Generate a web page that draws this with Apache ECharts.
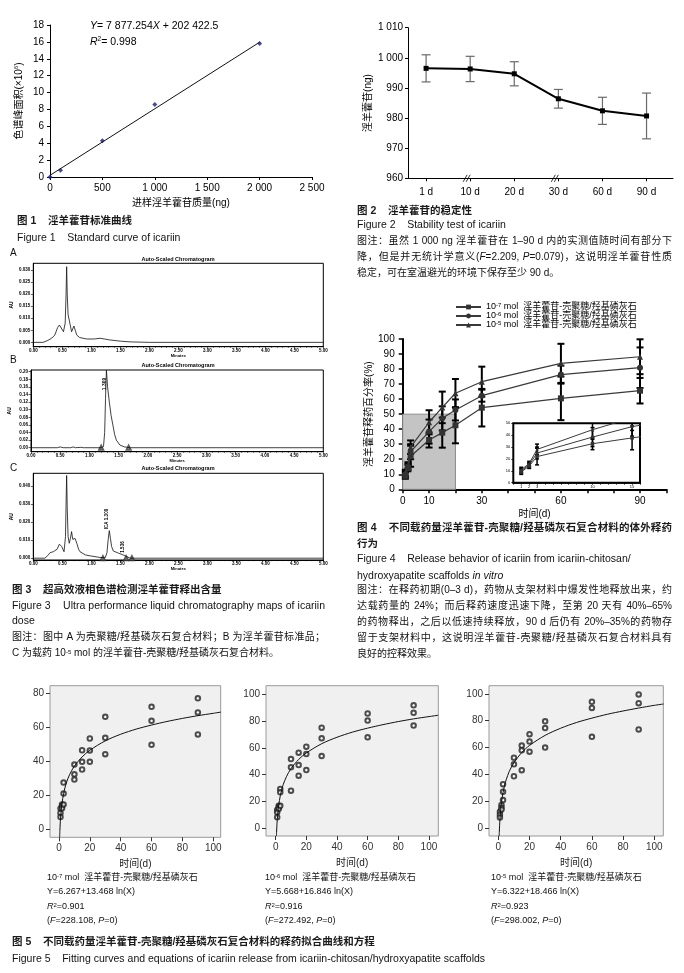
<!DOCTYPE html>
<html><head><meta charset="utf-8">
<script src="https://cdn.jsdelivr.net/npm/echarts@6/dist/echarts.min.js"></script>
<style>
html,body{margin:0;padding:0;background:#fff;}
#wrap{position:relative;width:684px;height:973px;overflow:hidden;}
#chart{position:absolute;left:0;top:0;width:684px;height:973px;}
.t{position:absolute;white-space:nowrap;font-family:"Liberation Sans","Noto Sans CJK SC",sans-serif;font-size:10px;line-height:12px;color:#111;}
.h{font-weight:bold;color:#1a1a1a;}
.j{white-space:normal;text-align:justify;text-align-last:justify;}
.s{font-size:9px;}
sup{font-size:6px;vertical-align:top;position:relative;top:-1px;}
</style></head>
<body><div id="wrap"><div id="chart"></div>
<div class="t h" style="left:17px;top:214px;font-size:10.5px">图 1&nbsp;&nbsp;&nbsp; 淫羊藿苷标准曲线</div>
<div class="t" style="left:17px;top:231px;font-size:10.5px">Figure 1&nbsp;&nbsp;&nbsp; Standard curve of icariin</div>

<div class="t h" style="left:357px;top:204px;font-size:10.5px">图 2&nbsp;&nbsp;&nbsp; 淫羊藿苷的稳定性</div>
<div class="t" style="left:357px;top:218px;font-size:10.5px">Figure 2&nbsp;&nbsp;&nbsp; Stability test of icariin</div>
<div class="t j" style="left:357px;top:235px;width:315px">图注：虽然 1 000 ng 淫羊藿苷在 1–90 d 内的实测值随时间有部分下</div>
<div class="t j" style="left:357px;top:251px;width:315px">降，但是并无统计学意义(<i>F</i>=2.209, <i>P</i>=0.079)，这说明淫羊藿苷性质</div>
<div class="t" style="left:357px;top:267px">稳定，可在室温避光的环境下保存至少 90 d。</div>

<div class="t" style="left:10px;top:247px">A</div>
<div class="t" style="left:10px;top:354px">B</div>
<div class="t" style="left:10px;top:462px">C</div>
<div class="t h" style="left:12px;top:583px;font-size:10.5px">图 3&nbsp;&nbsp;&nbsp; 超高效液相色谱检测淫羊藿苷释出含量</div>
<div class="t j" style="left:12px;top:599px;width:313px;font-size:10.5px">Figure 3&nbsp;&nbsp;&nbsp; Ultra performance liquid chromatography maps of icariin</div>
<div class="t" style="left:12px;top:614px;font-size:10.5px">dose</div>
<div class="t j" style="left:12px;top:631px;width:313px">图注：图中 A 为壳聚糖/羟基磷灰石复合材料；B 为淫羊藿苷标准品；</div>
<div class="t" style="left:12px;top:647px">C 为载药 10<sup>-5</sup> mol 的淫羊藿苷-壳聚糖/羟基磷灰石复合材料。</div>

<div class="t h j" style="left:357px;top:521px;width:315px;font-size:10.5px">图 4&nbsp;&nbsp;&nbsp; 不同载药量淫羊藿苷-壳聚糖/羟基磷灰石复合材料的体外释药</div>
<div class="t h" style="left:357px;top:537px;font-size:10.5px">行为</div>
<div class="t" style="left:357px;top:552px;font-size:10.5px">Figure 4&nbsp;&nbsp;&nbsp; Release behavior of icariin from icariin-chitosan/</div>
<div class="t" style="left:357px;top:569px;font-size:10.5px">hydroxyapatite scaffolds <i>in vitro</i></div>
<div class="t j" style="left:357px;top:584px;width:315px">图注：在释药初期(0–3 d)，药物从支架材料中爆发性地释放出来，约</div>
<div class="t j" style="left:357px;top:600px;width:315px">达载药量的 24%；而后释药速度迅速下降，至第 20 天有 40%–65%</div>
<div class="t j" style="left:357px;top:616px;width:315px">的药物释出，之后以低速持续释放，90 d 后仍有 20%–35%的药物存</div>
<div class="t j" style="left:357px;top:632px;width:315px">留于支架材料中，这说明淫羊藿苷-壳聚糖/羟基磷灰石复合材料具有</div>
<div class="t" style="left:357px;top:648px">良好的控释效果。</div>

<div class="t s" style="left:47px;top:871px">10<sup>-7</sup> mol&nbsp; 淫羊藿苷-壳聚糖/羟基磷灰石</div>
<div class="t s" style="left:47px;top:885px">Y=6.267+13.468 ln(X)</div>
<div class="t s" style="left:47px;top:900px"><i>R</i><sup>2</sup>=0.901</div>
<div class="t s" style="left:47px;top:914px">(<i>F</i>=228.108, <i>P</i>=0)</div>
<div class="t s" style="left:265px;top:871px">10<sup>-6</sup> mol&nbsp; 淫羊藿苷-壳聚糖/羟基磷灰石</div>
<div class="t s" style="left:265px;top:885px">Y=5.668+16.846 ln(X)</div>
<div class="t s" style="left:265px;top:900px"><i>R</i><sup>2</sup>=0.916</div>
<div class="t s" style="left:265px;top:914px">(<i>F</i>=272.492, <i>P</i>=0)</div>
<div class="t s" style="left:491px;top:871px">10<sup>-5</sup> mol&nbsp; 淫羊藿苷-壳聚糖/羟基磷灰石</div>
<div class="t s" style="left:491px;top:885px">Y=6.322+18.466 ln(X)</div>
<div class="t s" style="left:491px;top:900px"><i>R</i><sup>2</sup>=0.923</div>
<div class="t s" style="left:491px;top:914px">(<i>F</i>=298.002, <i>P</i>=0)</div>

<div class="t h" style="left:12px;top:935px;font-size:10.5px">图 5&nbsp;&nbsp;&nbsp; 不同载药量淫羊藿苷-壳聚糖/羟基磷灰石复合材料的释药拟合曲线和方程</div>
<div class="t" style="left:12px;top:952px;font-size:10.5px">Figure 5&nbsp;&nbsp;&nbsp; Fitting curves and equations of icariin release from icariin-chitosan/hydroxyapatite scaffolds</div>
</div>
<script>
// ---------- Figure 1 ----------
const fig1Mass = [0, 100, 500, 1000, 2000];
const fig1Area = [0.0, 0.8, 4.3, 8.6, 15.8];
const fig1FitX = [0, 2000];
const fig1FitY = [0.2, 15.96];
// ---------- Figure 2 ----------
const fig2Days = ['1 d', '10 d', '20 d', '30 d', '60 d', '90 d'];
const fig2Mean = [996.5, 996.3, 994.7, 986.4, 982.4, 980.7];
const fig2SD = [4.5, 4.2, 4.0, 3.1, 4.5, 7.6];
const fig2Breaks = [1, 3];
// ---------- Figure 3 (chromatograms: [minutes, AU]) ----------
const chromA = [[0,0],[0.17,0],[0.25,0.0008],[0.32,0.0018],[0.37,0.003],[0.42,0.0062],[0.45,0.0072],[0.48,0.0065],[0.52,0.0044],[0.55,0.008],[0.565,0.02],[0.575,0.0314],[0.585,0.02],[0.6,0.0115],[0.63,0.008],[0.66,0.0044],[0.70,0.0068],[0.73,0.0045],[0.75,0.003],[0.8,0.002],[0.92,0.0014],[1.05,0.0014],[1.15,0.0017],[1.25,0.0013],[1.32,0.001],[1.5,0.0005],[1.67,0.0002],[2.0,0],[5.0,0]];
const chromB = [[0,0],[0.45,0],[0.5,0.002],[0.55,0],[0.68,0],[0.72,0.002],[0.76,0],[0.85,0.001],[0.9,0],[1.2,0],[1.24,0.003],[1.26,0.04],[1.275,0.13],[1.29,0.204],[1.31,0.16],[1.34,0.12],[1.37,0.085],[1.40,0.06],[1.43,0.035],[1.46,0.02],[1.52,0.007],[1.6,0.002],[1.7,0],[5,0]];
const chromC = [[0,0],[0.2,0],[0.25,0.0015],[0.29,0.0031],[0.32,0.0028],[0.345,0.0036],[0.37,0.0027],[0.41,0.005],[0.45,0.0078],[0.49,0.0065],[0.53,0.0036],[0.555,0.012],[0.565,0.03],[0.575,0.046],[0.585,0.028],[0.6,0.012],[0.62,0.0083],[0.64,0.011],[0.66,0.0148],[0.68,0.0105],[0.70,0.0100],[0.72,0.011],[0.75,0.0083],[0.78,0.005],[0.805,0.0036],[0.9,0.0018],[0.98,0.0013],[1.15,0.0004],[1.24,0.0003],[1.27,0.003],[1.29,0.01],[1.31,0.0153],[1.33,0.011],[1.35,0.0065],[1.38,0.004],[1.41,0.0031],[1.47,0.0028],[1.50,0.0026],[1.55,0.0018],[1.58,0.0011],[1.67,0],[5,0]];
const chromBMarks = [[1.2,0],[1.67,0]];
const chromCMarks = [[1.2,0],[1.6,0],[1.7,0]];
const chromATicks = [0, 0.005, 0.010, 0.015, 0.020, 0.025, 0.030];
const chromBTicks = [0, 0.02, 0.04, 0.06, 0.08, 0.10, 0.12, 0.14, 0.16, 0.18, 0.20];
const chromCTicks = [0, 0.010, 0.020, 0.030, 0.040];
// ---------- Figure 4 ----------
const fig4Days = [1, 2, 3, 10, 15, 20, 30, 60, 90];
const rel7Mean = [9, 14, 22, 32.8, 37.7, 42.6, 54.3, 60.5, 65.6];
const rel7SD   = [2, 2, 7, 5, 10, 12, 12.5, 14.5, 8.5];
const rel6Mean = [10, 15, 25, 38.4, 47.2, 52.8, 62.3, 76.3, 80.9];
const rel6SD   = [2, 2, 5, 8, 8, 7, 4, 6, 13.5];
const rel5Mean = [11, 16, 28, 44.6, 54.5, 63.9, 71.6, 83.8, 88.2];
const rel5SD   = [2, 2, 4.5, 8, 10.5, 9.5, 10, 13, 11.6];
const fig4XLabels = [0, 10, 30, 60, 90];
const insetXLabels = [1, 2, 3, 10, 15];
const shadeBox = [[0, 0], [20, 50]];
// ---------- Figure 5 ----------
const fig5Time = [1,1,1,2,2,2,3,3,3,10,10,10,15,15,15,20,20,20,30,30,30,60,60,60,90,90,90];
const fit7Obs = [12.4,9.8,7.4,14.7,13.9,12.5,27.6,21.2,14.8,38.2,32.5,29.4,46.6,39.8,35.3,53.5,46.5,39.8,66.2,53.9,44.3,72.1,63.9,49.8,77.1,68.8,55.9];
const fit6Obs = [13.6,11.9,8.2,16.8,15.5,14.5,29.3,26.8,16.8,51.6,45.4,28.0,56.3,47.1,39.2,60.8,55.3,43.4,74.9,67.0,53.8,85.5,80.2,67.8,91.6,86.0,76.5];
const fit5Obs = [12.3,10.0,8.1,17.3,15.3,14.0,32.8,27.1,21.0,52.5,47.6,38.7,61.5,58.0,43.2,70.0,64.5,57.0,79.5,74.5,60.0,94.0,89.5,68.0,99.5,93.0,73.5];
const curve7 = [[0.45,-4.5],[0.6,-0.6],[0.8,3.3],[1,6.3],[1.5,11.7],[2,15.6],[3,21.1],[4,25.0],[5,28.0],[7,32.5],[10,37.3],[15,42.7],[20,46.6],[30,52.1],[40,56.0],[50,59.0],[60,61.4],[70,63.5],[80,65.3],[90,66.9],[100,68.3],[105,69.0]];
const curve6 = [[0.51,-5.7],[0.6,-2.9],[0.8,1.9],[1,5.7],[1.5,12.5],[2,17.3],[3,24.2],[4,29.0],[5,32.8],[7,38.4],[10,44.5],[15,51.3],[20,56.1],[30,63.0],[40,67.8],[50,71.6],[60,74.6],[70,77.2],[80,79.5],[90,81.5],[100,83.2],[106,84.2]];
const curve5 = [[0.52,-5.7],[0.6,-3.1],[0.8,2.2],[1,6.3],[1.5,13.8],[2,19.1],[3,26.6],[4,31.9],[5,36.0],[7,42.3],[10,48.8],[15,56.3],[20,61.6],[30,69.1],[40,74.4],[50,78.6],[60,81.9],[70,84.8],[80,87.2],[90,89.4],[100,91.4],[106,92.4]];
const fig5XTicks = [0, 20, 40, 60, 80, 100];
const fig5YTicks80 = [0, 20, 40, 60, 80];
const fig5YTicks100 = [0, 20, 40, 60, 80, 100];

const FONT = '"Liberation Sans","Noto Sans CJK SC",sans-serif';
const fmtK = v => { const s = String(Math.round(v)); return s.length > 3 ? s.slice(0, s.length - 3) + ' ' + s.slice(-3) : s; };
const zip = (xs, ys) => xs.map((x, i) => [x, ys[i]]);

function errBars(xi, yi, xs, means, sds, cap, color, width, z) {
  return {
    type: 'custom', xAxisIndex: xi, yAxisIndex: yi, z: z || 3, silent: true,
    encode: { x: 0, y: 1 },
    data: xs.map((x, i) => [x, means[i], sds[i]]),
    renderItem: (params, api) => {
      const x = api.value(0), m = api.value(1), s = api.value(2);
      const cs = params.coordSys;
      let top = api.coord([x, m + s]), bot = api.coord([x, m - s]);
      if (top[0] < cs.x - 0.5 || top[0] > cs.x + cs.width + 0.5) return null;
      const yTop = Math.max(top[1], cs.y), yBot = Math.min(bot[1], cs.y + cs.height);
      if (yTop >= yBot) return null;
      const st = { stroke: color, lineWidth: width };
      const ch = [{ type: 'line', shape: { x1: top[0], y1: yTop, x2: top[0], y2: yBot }, style: st }];
      if (top[1] >= cs.y) ch.push({ type: 'line', shape: { x1: top[0] - cap / 2, y1: top[1], x2: top[0] + cap / 2, y2: top[1] }, style: st });
      if (bot[1] <= cs.y + cs.height) ch.push({ type: 'line', shape: { x1: bot[0] - cap / 2, y1: bot[1], x2: bot[0] + cap / 2, y2: bot[1] }, style: st });
      return { type: 'group', children: ch };
    }
  };
}

const blackLine = (w) => ({ show: true, onZero: false, lineStyle: { color: '#000', width: w || 1 } });
const lbl = (o) => Object.assign({ color: '#000', fontSize: 10, fontFamily: FONT }, o);

// chromatogram axes
function chromX(gi) {
  return { type: 'value', gridIndex: gi, min: 0, max: 5, interval: 0.5,
    axisLine: blackLine(1), axisTick: { show: true, length: 2, lineStyle: { color: '#000', width: 0.6 } },
    minorTick: { show: true, splitNumber: 5, length: 1.2, lineStyle: { color: '#000', width: 0.5 } },
    axisLabel: lbl({ fontSize: 4.5, fontWeight: 'bold', margin: 1.5, formatter: v => v.toFixed(2) }),
    splitLine: { show: false },
    name: 'Minutes', nameLocation: 'middle', nameGap: 5.5, nameTextStyle: lbl({ fontSize: 4, fontWeight: 'bold' }) };
}
function chromY(gi, mn, mx, ticks, dec) {
  return { type: 'value', gridIndex: gi, min: mn, max: mx,
    axisLine: blackLine(1),
    axisTick: { show: true, length: 2.5, customValues: ticks, lineStyle: { color: '#000', width: 0.6 } },
    axisLabel: lbl({ fontSize: 4.5, fontWeight: 'bold', margin: 3, customValues: ticks, formatter: v => v.toFixed(dec) }),
    splitLine: { show: false },
    name: 'AU', nameLocation: 'middle', nameGap: 19, nameTextStyle: lbl({ fontSize: 5, fontWeight: 'bold' }) };
}
function f5X(gi, mn, mx) {
  return { type: 'value', gridIndex: gi, min: mn, max: mx,
    axisLine: { show: false, onZero: false },
    axisTick: { show: true, length: 4, customValues: fig5XTicks, lineStyle: { color: '#333' } },
    axisLabel: lbl({ color: '#333', margin: 6, customValues: fig5XTicks }),
    splitLine: { show: false },
    name: '时间(d)', nameLocation: 'middle', nameGap: 22, nameTextStyle: lbl({ color: '#222' }) };
}
function f5Y(gi, mn, mx, ticks) {
  return { type: 'value', gridIndex: gi, min: mn, max: mx,
    axisLine: { show: false, onZero: false },
    axisTick: { show: true, length: 4, customValues: ticks, lineStyle: { color: '#333' } },
    axisLabel: lbl({ color: '#333', margin: 6, customValues: ticks }),
    splitLine: { show: false } };
}

const relSeries = [
  { name: 'r7', mean: rel7Mean, sd: rel7SD, sym: 'rect' },
  { name: 'r6', mean: rel6Mean, sd: rel6SD, sym: 'circle' },
  { name: 'r5', mean: rel5Mean, sd: rel5SD, sym: 'triangle' }
];
const supMap = { r7: '-7', r6: '-6', r5: '-5' };

const series = [];
// Fig 1
series.push({ type: 'line', xAxisIndex: 0, yAxisIndex: 0, data: zip(fig1FitX, fig1FitY), showSymbol: false, lineStyle: { color: '#111', width: 1 }, silent: true });
series.push({ type: 'scatter', xAxisIndex: 0, yAxisIndex: 0, data: zip(fig1Mass, fig1Area), symbol: 'diamond', symbolSize: 5, itemStyle: { color: '#1b1b8a' } });
// Fig 2
series.push(errBars(1, 1, fig2Days.map((d, i) => i), fig2Mean, fig2SD, 9, '#6a6a6a', 1.2, 2));
series.push({ type: 'line', xAxisIndex: 1, yAxisIndex: 1, data: fig2Mean.map((v, i) => [i, v]), symbol: 'rect', symbolSize: 5, lineStyle: { color: '#000', width: 2 }, itemStyle: { color: '#000' }, z: 3 });
series.push({ type: 'scatter', xAxisIndex: 1, yAxisIndex: 1, data: fig2Breaks.map(i => [i - 0.08, 960]), symbol: 'path://M0,10 L4,0 M3,10 L7,0', symbolSize: [7, 7], itemStyle: { color: 'none', borderColor: '#000', borderWidth: 1 }, z: 4, silent: true });
// Fig 3
const chromLine = (xi, d) => ({ type: 'line', xAxisIndex: xi, yAxisIndex: xi, data: d, showSymbol: false, lineStyle: { color: '#111', width: 0.8 }, silent: true });
series.push(chromLine(2, chromA));
series.push(chromLine(3, chromB));
series.push(chromLine(4, chromC));
series.push({ type: 'scatter', xAxisIndex: 3, yAxisIndex: 3, data: chromBMarks, symbol: 'emptyTriangle', symbolSize: 4, itemStyle: { color: '#333' } });
series.push({ type: 'scatter', xAxisIndex: 4, yAxisIndex: 4, data: chromCMarks, symbol: 'emptyTriangle', symbolSize: 4, itemStyle: { color: '#333' } });
// Fig 4 main
relSeries.forEach((s, k) => {
  series.push(errBars(5, 5, fig4Days, s.mean, s.sd, 7, '#000', 2, 3));
});
relSeries.forEach((s, k) => {
  const o = { type: 'line', name: s.name, xAxisIndex: 5, yAxisIndex: 5, data: zip(fig4Days, s.mean),
    symbol: s.sym, symbolSize: 6, lineStyle: { color: '#3a3a3a', width: 1.2 }, itemStyle: { color: '#333' }, z: 4 };
  if (k === 0) o.markArea = { silent: true, itemStyle: { color: '#c4c4c4', borderColor: '#8c8c8c', borderWidth: 1 },
    data: [[{ coord: shadeBox[0] }, { coord: shadeBox[1] }]] };
  series.push(o);
});
// Fig 4 inset
relSeries.forEach((s) => {
  const keep = fig4Days.map((d, i) => i).filter(i => fig4Days[i] <= 15);
  series.push(errBars(6, 6, keep.map(i => fig4Days[i]), keep.map(i => s.mean[i]), keep.map(i => s.sd[i]), 4, '#000', 1.5, 6));
  series.push({ type: 'line', name: s.name, xAxisIndex: 6, yAxisIndex: 6, data: zip(fig4Days, s.mean), clip: true,
    symbol: s.sym, symbolSize: 3.5, lineStyle: { color: '#3a3a3a', width: 1 }, itemStyle: { color: '#333' }, z: 7 });
});
// Fig 5
[[7, fit7Obs, curve7], [8, fit6Obs, curve6], [9, fit5Obs, curve5]].forEach(([gi, obs, cur]) => {
  series.push({ type: 'line', xAxisIndex: gi, yAxisIndex: gi, data: cur, smooth: 0.3, showSymbol: false, clip: true, lineStyle: { color: '#111', width: 1 }, silent: true });
  series.push({ type: 'scatter', xAxisIndex: gi, yAxisIndex: gi, data: zip(fig5Time, obs), symbol: 'emptyCircle', symbolSize: 4.5, itemStyle: { color: '#222', borderWidth: 0.8 } });
});

const gridBox = { show: true, borderColor: '#000', borderWidth: 1, backgroundColor: '#fff' };
const f5Box = { show: true, borderColor: '#999', borderWidth: 1, backgroundColor: '#f0f0f0' };

const option = {
  animation: false,
  textStyle: { fontFamily: FONT },
  grid: [
    { left: 50, top: 25, width: 262, height: 152 },
    { left: 408, top: 27.7, width: 265, height: 150.6 },
    Object.assign({ left: 33.3, top: 263.3, width: 290, height: 83.4 }, gridBox),
    Object.assign({ left: 31, top: 370, width: 292.3, height: 81.7 }, gridBox),
    Object.assign({ left: 33.3, top: 473.3, width: 290, height: 86.7 }, gridBox),
    { left: 402.7, top: 339, width: 263.7, height: 150.3 },
    { left: 513.3, top: 423.3, width: 126.7, height: 59.4, show: true, borderColor: '#000', borderWidth: 2, backgroundColor: '#fff', z: 5 },
    Object.assign({ left: 50, top: 685.7, width: 170.7, height: 151.6 }, f5Box),
    Object.assign({ left: 266, top: 685.7, width: 172.3, height: 150.3 }, f5Box),
    Object.assign({ left: 489, top: 685.7, width: 174.3, height: 150.3 }, f5Box)
  ],
  xAxis: [
    { type: 'value', gridIndex: 0, min: 0, max: 2500, interval: 500, axisLine: blackLine(1),
      axisTick: { show: true, length: 3, lineStyle: { color: '#000' } }, axisLabel: lbl({ margin: 6, formatter: fmtK }), splitLine: { show: false },
      name: '进样淫羊藿苷质量(ng)', nameLocation: 'middle', nameGap: 21, nameTextStyle: lbl({}) },
    { type: 'value', gridIndex: 1, min: -0.41, max: 5.6, axisLine: blackLine(1),
      axisTick: { show: true, length: 3, customValues: [0, 1, 2, 3, 4, 5], lineStyle: { color: '#000' } },
      axisLabel: lbl({ margin: 9, customValues: [0, 1, 2, 3, 4, 5], formatter: v => fig2Days[Math.round(v)] }), splitLine: { show: false } },
    chromX(2), chromX(3), chromX(4),
    { type: 'value', gridIndex: 5, min: 0, max: 100, interval: 10, axisLine: blackLine(2),
      axisTick: { show: true, length: 4, lineStyle: { color: '#000', width: 1.5 } },
      axisLabel: lbl({ margin: 7, customValues: fig4XLabels }), splitLine: { show: false },
      name: '时间(d)', nameLocation: 'middle', nameGap: 20, nameTextStyle: lbl({}) },
    { type: 'value', gridIndex: 6, min: 0, max: 16, interval: 1, axisLine: blackLine(1.5),
      axisTick: { show: true, length: 2, lineStyle: { color: '#000', width: 0.8 } },
      axisLabel: lbl({ fontSize: 4, margin: 2, customValues: insetXLabels }), splitLine: { show: false } },
    f5X(7, -5.8, 104.8), f5X(8, -6.3, 106.1), f5X(9, -6, 105.8)
  ],
  yAxis: [
    { type: 'value', gridIndex: 0, min: 0, max: 18, interval: 2, axisLine: blackLine(1),
      axisTick: { show: true, length: 3, lineStyle: { color: '#000' } }, axisLabel: lbl({ margin: 6 }), splitLine: { show: false },
      name: '{a|色谱峰面积(×10}{b|6}{a|)}', nameLocation: 'middle', nameGap: 25,
      nameTextStyle: { rich: { a: { fontSize: 10, color: '#000', fontFamily: FONT, lineHeight: 12 }, b: { fontSize: 6, color: '#000', fontFamily: FONT, verticalAlign: 'top', lineHeight: 12 } } } },
    { type: 'value', gridIndex: 1, min: 960, max: 1010, interval: 10, axisLine: blackLine(1),
      axisTick: { show: true, length: 3, lineStyle: { color: '#000' } }, axisLabel: lbl({ margin: 5, formatter: fmtK }), splitLine: { show: false },
      name: '淫羊藿苷(ng)', nameLocation: 'middle', nameGap: 35, nameTextStyle: lbl({}) },
    chromY(2, -0.0018, 0.0328, chromATicks, 3),
    chromY(3, -0.0105, 0.2045, chromBTicks, 2),
    chromY(4, -0.001, 0.0472, chromCTicks, 3),
    { type: 'value', gridIndex: 5, min: 0, max: 100, interval: 10, axisLine: blackLine(2),
      axisTick: { show: true, length: 4, lineStyle: { color: '#000', width: 1.5 } }, axisLabel: lbl({ margin: 8 }), splitLine: { show: false },
      name: '淫羊藿苷释药百分率(%)', nameLocation: 'middle', nameGap: 25, nameTextStyle: lbl({}) },
    { type: 'value', gridIndex: 6, min: 0, max: 50, interval: 10, axisLine: blackLine(1.5),
      axisTick: { show: true, length: 2, lineStyle: { color: '#000', width: 0.8 } }, axisLabel: lbl({ fontSize: 4, margin: 3 }), splitLine: { show: false } },
    f5Y(7, -4.5, 84.5, fig5YTicks80), f5Y(8, -5.7, 106.2, fig5YTicks100), f5Y(9, -5.7, 106, fig5YTicks100)
  ],
  legend: {
    orient: 'vertical', left: 455, top: 302.5, padding: 0, itemGap: 0, itemWidth: 25, itemHeight: 6,
    data: ['r7', 'r6', 'r5'], selectedMode: false,
    formatter: n => '{n|10}{s|' + supMap[n] + '}{n| mol  淫羊藿苷-壳聚糖/羟基磷灰石}',
    textStyle: { fontSize: 9, lineHeight: 9, color: '#000', rich: {
      n: { fontSize: 9, lineHeight: 9, color: '#000', fontFamily: FONT },
      s: { fontSize: 6, lineHeight: 9, color: '#000', fontFamily: FONT, verticalAlign: 'top' } } }
  },
  graphic: [
    { type: 'text', left: 90, top: 21, style: { text: '{i|Y}{n|= 7 877.254}{i|X}{n| + 202 422.5}',
      rich: { i: { fontSize: 10.5, fontStyle: 'italic', fill: '#000', fontFamily: FONT }, n: { fontSize: 10.5, fill: '#000', fontFamily: FONT } } } },
    { type: 'text', left: 90, top: 36, style: { text: '{i|R}{s|2}{n|= 0.998}',
      rich: { i: { fontSize: 10.5, fontStyle: 'italic', fill: '#000', fontFamily: FONT, lineHeight: 12 }, s: { fontSize: 6.5, fill: '#000', fontFamily: FONT, verticalAlign: 'top', lineHeight: 12 }, n: { fontSize: 10.5, fill: '#000', fontFamily: FONT, lineHeight: 12 } } } },
    { type: 'text', x: 178, y: 259, style: { text: 'Auto-Scaled Chromatogram', fontSize: 5.5, fontWeight: 'bold', fill: '#000', align: 'center', verticalAlign: 'middle', fontFamily: FONT } },
    { type: 'text', x: 178, y: 365, style: { text: 'Auto-Scaled Chromatogram', fontSize: 5.5, fontWeight: 'bold', fill: '#000', align: 'center', verticalAlign: 'middle', fontFamily: FONT } },
    { type: 'text', x: 178, y: 468, style: { text: 'Auto-Scaled Chromatogram', fontSize: 5.5, fontWeight: 'bold', fill: '#000', align: 'center', verticalAlign: 'middle', fontFamily: FONT } },
    { type: 'text', x: 105, y: 384, rotation: Math.PI / 2, style: { text: '1.309', fontSize: 5, fontWeight: 'bold', fill: '#000', align: 'center', verticalAlign: 'middle', fontFamily: FONT } },
    { type: 'text', x: 107, y: 519, rotation: Math.PI / 2, style: { text: 'ICA 1.309', fontSize: 4.5, fontWeight: 'bold', fill: '#000', align: 'center', verticalAlign: 'middle', fontFamily: FONT } },
    { type: 'text', x: 123, y: 547, rotation: Math.PI / 2, style: { text: '1.536', fontSize: 4.5, fontWeight: 'bold', fill: '#000', align: 'center', verticalAlign: 'middle', fontFamily: FONT } }
  ],
  series: series
};
const chart = echarts.init(document.getElementById('chart'), null, { renderer: 'canvas' });
chart.setOption(option);
</script>
</body></html>
